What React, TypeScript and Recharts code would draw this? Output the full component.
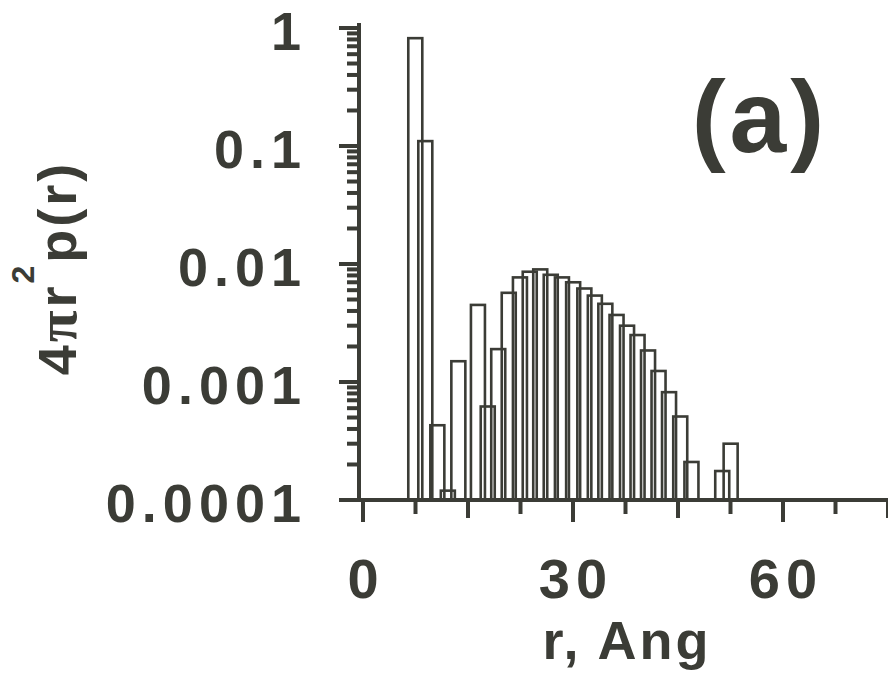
import React from 'react';
import { BarChart, Bar, XAxis, YAxis } from 'recharts';

const INK = '#3b3c36';
const FONT = '"Liberation Sans", Arial, Helvetica, sans-serif';

// histogram bins: centre of each bin (Angstrom) and 4*pi*r^2*p(r)
const rBins = [7.45, 8.88, 10.6, 12.1, 13.6, 16.4, 17.8, 19.3, 20.8, 22.4, 23.8, 25.3, 26.8, 28.4, 30.0, 31.6, 33.1, 34.6, 36.2, 37.7, 39.2, 40.7, 42.2, 43.7, 45.3, 46.9, 51.3, 52.5];
const density = [0.82, 0.11, 0.00043, 0.00012, 0.0015, 0.0045, 0.00062, 0.0019, 0.0057, 0.0077, 0.0086, 0.009, 0.0081, 0.0077, 0.007, 0.0062, 0.0054, 0.0046, 0.0037, 0.003, 0.0025, 0.00185, 0.00124, 0.00082, 0.00051, 0.00021, 0.000176, 0.0003];

const xTicks = [0, 7.5, 15, 22.5, 30, 37.5, 45, 52.5, 60, 67.5, 75];
const xLabelled = [0, 30, 60];
const yDecades = [0.0001, 0.001, 0.01, 0.1, 1];
const yLabels = ['0.0001', '0.001', '0.01', '0.1', '1'];
const yMinorSteps = [2, 3, 4, 5, 6, 7, 8, 9];

const data = rBins.map((r, i) => ({ r, p: density[i] }));
const yTicks = [
  ...yDecades.slice(0, -1).flatMap((d) => [d, ...yMinorSteps.map((k) => d * k)]),
  yDecades[yDecades.length - 1],
];

const BAR_W = 14;

// open (unfilled) bar, fixed width, centred on the bin
function OpenBar(props: any) {
  const { x, y, width, height } = props;
  if (x == null || y == null) return null;
  const cx = x + width / 2;
  return <rect x={cx - BAR_W / 2} y={y} width={BAR_W} height={height} fill="none" stroke={INK} strokeWidth={2.6} />;
}

function XTick({ x, y, payload }: any) {
  const v = payload.value;
  const len = v % 30 === 0 ? 22 : v % 15 === 0 ? 18 : 14;
  return (
    <g>
      <line x1={x} x2={x} y1={y} y2={y + len} stroke={INK} strokeWidth={4} />
      {xLabelled.includes(v) && (
        <text x={x + 3} y={y + 98} textAnchor="middle" fill={INK} fontFamily={FONT} fontWeight="bold" fontSize={56} letterSpacing={6}>{v}</text>
      )}
    </g>
  );
}

function YTick({ x, y, payload }: any) {
  const v = payload.value;
  const idx = yDecades.findIndex((d) => Math.abs(Math.log10(d) - Math.log10(v)) < 1e-6);
  const len = idx >= 0 ? 20 : 12;
  return (
    <g>
      <line x1={x - len} x2={x} y1={y} y2={y} stroke={INK} strokeWidth={4} />
      {idx >= 0 && (
        <text x={307} y={y + 22} textAnchor="end" fill={INK} fontFamily={FONT} fontWeight="bold" fontSize={54} letterSpacing={6}>{yLabels[idx]}</text>
      )}
    </g>
  );
}

function YTitle() {
  return (
    <text transform="translate(76,268) rotate(-90)" textAnchor="middle" fill={INK} fontFamily={FONT} fontWeight="bold" fontSize={54} letterSpacing={3}>
      <tspan>4</tspan>
      <tspan fontFamily='"Liberation Serif", "DejaVu Serif", serif' fontSize={58}>π</tspan>
      <tspan>r</tspan>
      <tspan dy={-42} fontSize={32}>2</tspan>
      <tspan dy={42}>p(r)</tspan>
    </text>
  );
}

function XTitle() {
  return (
    <text x={627} y={659} textAnchor="middle" fill={INK} fontFamily={FONT} fontWeight="bold" fontSize={54} letterSpacing={3}>r, Ang</text>
  );
}

export default function App() {
  return (
    <div style={{ position: 'absolute', left: 0, top: 0, width: 888, height: 673, background: '#fff' }}>
      <BarChart width={888} height={673} data={data} margin={{ top: 23, right: 0, bottom: 0, left: 0 }}>
        <XAxis xAxisId="top" orientation="top" type="number" dataKey="r" domain={[0, 75]} height={0} tick={false} tickLine={false}
          axisLine={{ stroke: INK, strokeWidth: 4 }} allowDataOverflow />
        <XAxis dataKey="r" type="number" domain={[0, 75]} ticks={xTicks} interval={0} padding={{ left: 4, right: 0 }} height={173}
          tickSize={0} tickMargin={0} tickLine={false} tick={<XTick />} axisLine={{ stroke: INK, strokeWidth: 4 }}
          label={<XTitle />} allowDataOverflow />
        <YAxis scale="log" domain={[0.0001, 1]} ticks={yTicks} interval={0} width={359} padding={{ top: 5, bottom: 0 }}
          tickSize={0} tickMargin={0} tickLine={false} tick={<YTick />} axisLine={{ stroke: INK, strokeWidth: 4 }}
          label={<YTitle />} allowDataOverflow />
        <Bar dataKey="p" shape={<OpenBar />} isAnimationActive={false} />
      </BarChart>
      <svg width={888} height={673} style={{ position: 'absolute', left: 0, top: 0, pointerEvents: 'none' }}>
        <text x={760} y={152} textAnchor="middle" fill={INK} fontFamily={FONT} fontWeight="bold" fontSize={102} letterSpacing={4}>(a)</text>
      </svg>
    </div>
  );
}
